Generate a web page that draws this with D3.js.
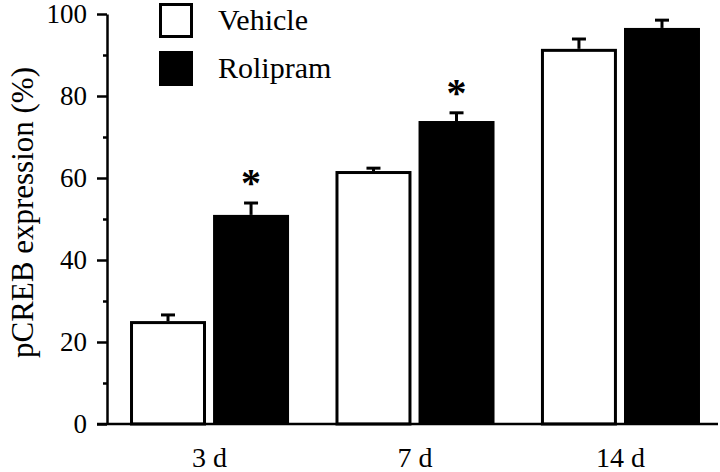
<!DOCTYPE html>
<html>
<head>
<meta charset="utf-8">
<script src="https://cdn.jsdelivr.net/npm/d3@7"></script>
<style>
  body { margin: 0; background: #fff; }
  svg { display: block; font-family: "Liberation Serif", "Times New Roman", serif; }
</style>
</head>
<body>
<div id="chart"></div>
<script>
// Values
const days = ["3 d", "7 d", "14 d"];
const groups = ["Vehicle", "Rolipram"];
const vehicleMean = [25.1, 61.7, 91.5];
const vehicleSem = [1.5, 0.7, 2.4];
const rolipramMean = [51.0, 73.9, 96.6];
const rolipramSem = [2.9, 2.0, 1.9];
const significant = [true, true, false];
const yTicks = [0, 20, 40, 60, 80, 100];
const yMinorTicks = [10, 30, 50, 70, 90];

const serif = '"Liberation Serif", "Times New Roman", serif';

const rows = [];
days.forEach((day, i) => {
    rows.push({ day, group: "Vehicle", mean: vehicleMean[i], sem: vehicleSem[i], sig: false });
    rows.push({ day, group: "Rolipram", mean: rolipramMean[i], sem: rolipramSem[i], sig: significant[i] });
});

const W = 720, H = 472;
const margin = { top: 14, right: 0, bottom: 48, left: 107 };
const plotBottom = H - margin.bottom;

const svg = d3.select("#chart")
    .append("svg")
    .attr("width", W)
    .attr("height", H);

// Scales
const yScale = d3.scaleLinear()
    .domain([0, 100])
    .range([plotBottom, margin.top]);

const xScale = d3.scaleBand()
    .domain(days)
    .range([margin.left, 723])
    .paddingInner(0.226)
    .paddingOuter(0.112);

const xSub = d3.scaleBand()
    .domain(groups)
    .range([0, xScale.bandwidth()])
    .paddingInner(0.085)
    .paddingOuter(0);

const barX = (d) => xScale(d.day) + xSub(d.group);

// Bars
const bars = svg.append("g");

bars.selectAll(".bar")
    .data(rows)
    .enter()
    .append("rect")
    .attr("class", "bar")
    .attr("x", (d) => d.group === "Vehicle" ? barX(d) + 1.5 : barX(d))
    .attr("y", (d) => d.group === "Vehicle" ? yScale(d.mean) + 1.5 : yScale(d.mean))
    .attr("width", (d) => d.group === "Vehicle" ? xSub.bandwidth() - 3 : xSub.bandwidth())
    .attr("height", (d) => d.group === "Vehicle" ? plotBottom - yScale(d.mean) - 1.5 : plotBottom - yScale(d.mean))
    .attr("fill", (d) => d.group === "Vehicle" ? "#fff" : "#000")
    .attr("stroke", (d) => d.group === "Vehicle" ? "#000" : "none")
    .attr("stroke-width", 3);

// Error bars (upper only)
const err = svg.append("g").attr("stroke", "#000").attr("stroke-width", 3);
const cx = (d) => barX(d) + xSub.bandwidth() / 2;

err.selectAll(".stem")
    .data(rows)
    .enter()
    .append("line")
    .attr("x1", cx)
    .attr("x2", cx)
    .attr("y1", (d) => yScale(d.mean))
    .attr("y2", (d) => yScale(d.mean + d.sem));

err.selectAll(".cap")
    .data(rows)
    .enter()
    .append("line")
    .attr("x1", (d) => cx(d) - 7)
    .attr("x2", (d) => cx(d) + 7)
    .attr("y1", (d) => yScale(d.mean + d.sem))
    .attr("y2", (d) => yScale(d.mean + d.sem));

// Significance stars
svg.selectAll(".star")
    .data(rows.filter((d) => d.sig))
    .enter()
    .append("text")
    .attr("x", cx)
    .attr("y", (d) => yScale(d.mean + d.sem) - 7)
    .attr("text-anchor", "middle")
    .style("font-size", "40px")
    .style("font-weight", "bold")
    .text("*");

// Y axis
const yAxis = svg.append("g")
    .attr("transform", `translate(${margin.left},0)`)
    .call(d3.axisLeft(yScale).tickValues(yTicks).tickSize(10).tickPadding(10).tickSizeOuter(0));

svg.append("g")
    .attr("transform", `translate(${margin.left},0)`)
    .call(d3.axisLeft(yScale).tickValues(yMinorTicks).tickSize(4).tickFormat("").tickSizeOuter(0))
    .select(".domain").remove();

yAxis.attr("font-family", serif)
    .selectAll("text")
    .style("font-size", "27px")
    .attr("fill", "#000");

svg.selectAll(".tick line").attr("stroke-width", 2.5);
yAxis.select(".domain").attr("stroke-width", 2.5);

// X axis
const xAxis = svg.append("g")
    .attr("transform", `translate(0,${plotBottom})`)
    .call(d3.axisBottom(xScale).tickSize(0).tickPadding(23));

xAxis.attr("font-family", serif);

xAxis.select(".domain")
    .attr("d", `M${margin.left - 10},0H${W - 2}`)
    .attr("stroke-width", 2.5);

xAxis.selectAll("text")
    .style("font-size", "28px")
    .attr("fill", "#000");

// Y axis title
svg.append("text")
    .attr("text-anchor", "middle")
    .attr("transform", `translate(33,${(68 + 357) / 2}) rotate(-90)`)
    .style("font-size", "31px")
    .text("pCREB expression (%)");

// Legend
const legend = svg.append("g");
groups.forEach((g, i) => {
    const ly = 3 + i * 48;
    legend.append("rect")
        .attr("x", g === "Vehicle" ? 160.5 : 159)
        .attr("y", g === "Vehicle" ? ly + 1.5 : ly)
        .attr("width", g === "Vehicle" ? 31 : 34)
        .attr("height", g === "Vehicle" ? 32 : 35)
        .attr("fill", g === "Vehicle" ? "#fff" : "#000")
        .attr("stroke", g === "Vehicle" ? "#000" : "none")
        .attr("stroke-width", 3);
    legend.append("text")
        .attr("x", 218)
        .attr("y", ly + 27)
        .style("font-size", "30px")
        .text(g);
});
</script>
</body>
</html>
